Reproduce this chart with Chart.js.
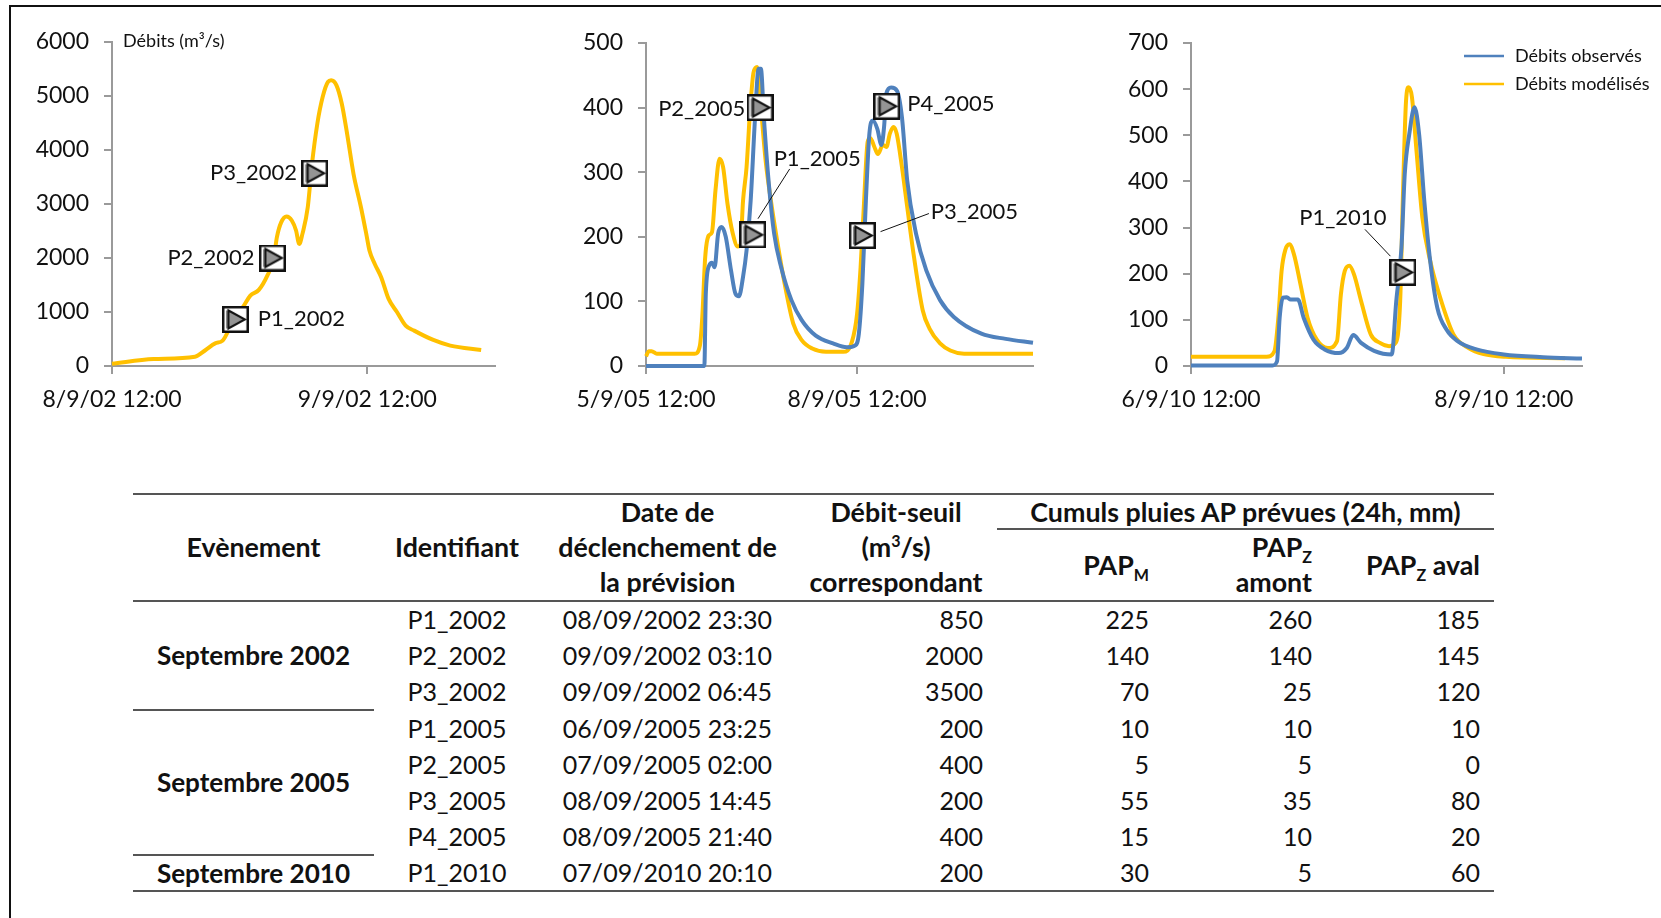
<!DOCTYPE html>
<html lang="fr">
<head>
<meta charset="utf-8">
<title>Débits observés et modélisés</title>
<script src="https://cdn.jsdelivr.net/npm/chart.js@4"></script>
<style>
  html, body { margin: 0; background: #fff; overflow: hidden; }
  body { width: 1661px; height: 918px; position: relative; font-family: Lato, sans-serif; color: #111; }
  #frame { position: absolute; left: 9px; top: 5px; width: 1700px; height: 1000px; border: 2px solid #111; box-sizing: border-box; }
  canvas { position: absolute; }
  table { position: absolute; left: 133px; top: 493px; width: 1361px; border-collapse: collapse; table-layout: fixed; font-size: 25px; line-height: 33px; }
  th, td { padding: 0; overflow: visible; white-space: nowrap; text-align: center; vertical-align: middle; font-weight: 400; }
  th { font-weight: 700; font-size: 26.8px; line-height: 35px; }
  .event { font-weight: 700; font-size: 26.1px; }
  .cumul { line-height: 30px; }
  tbody tr { height: 36.3px; }
  .num { text-align: right; padding-right: 14px; }
  .top { border-top: 2px solid #555; }
  .rule { border-bottom: 2px solid #555; }
  sub, sup { font-size: 60%; line-height: 0; }
</style>
</head>
<body>
<div id="frame"></div>
<canvas id="chart2002" width="503" height="420" style="left:12px;top:21px"></canvas>
<canvas id="chart2005" width="507" height="420" style="left:546px;top:21px"></canvas>
<canvas id="chart2010" width="571" height="420" style="left:1091px;top:21px"></canvas>
<table id="events"></table>

<script>
// 2002
const hours2002 = [0, 3.9, 7.8, 8.8, 9.7, 10.4, 11.4, 12.4, 13, 13.8, 14.6, 15.2, 15.5, 15.9, 16.4, 16.9, 17.3, 17.6, 17.9, 18.4, 18.8, 19.3, 19.8, 20.3, 20.6, 21.1, 21.6, 22.1, 22.7, 23.4, 23.9, 24.2, 24.7, 25.3, 26, 26.8, 27.6, 28.4, 30.2, 31.8, 34.7];
const model2002 = [40, 130, 173, 297, 420, 470, 840, 1118, 1304, 1410, 1675, 1985, 2385, 2660, 2770, 2695, 2510, 2260, 2447, 2940, 3745, 4487, 4980, 5260, 5290, 5197, 4857, 4300, 3560, 2940, 2447, 2138, 1890, 1644, 1242, 995, 748, 655, 482, 377, 297];
const yTicks2002 = [0, 1000, 2000, 3000, 4000, 5000, 6000];
const xTicks2002 = [0, 24];
const xLabels2002 = ["8/9/02 12:00", "9/9/02 12:00"];
const names2002 = ["P1_2002", "P2_2002", "P3_2002"];
const markerX2002 = [11.6, 15.08, 19.05];
const markerY2002 = [863, 2000, 3570];
const labelX2002 = [17.8, 9.3, 13.3];
const labelY2002 = [863, 2000, 3570];

// 2005
const hoursModel2005 = [0, 1, 1.9, 3.7, 16.6, 18.4, 19.2, 20.2, 21.4, 22.5, 23.7, 25.1, 26.3, 27.8, 29.6, 31.3, 32.2, 33.1, 34.3, 35.5, 36.7, 37.9, 39, 40.8, 42.6, 44.9, 47.3, 50.2, 53.1, 56.7, 61.4, 67.3, 70.2, 72, 73.2, 74.4, 75.6, 76.5, 77.9, 79.1, 80.8, 82, 83.2, 84.4, 85.5, 87.3, 89.1, 91.4, 94.4, 96.7, 100.3, 103.8, 108.5, 132];
const model2005 = [15, 23, 23, 19, 19, 32, 76, 169, 202, 207, 272, 321, 308, 251, 205, 185, 187, 256, 308, 396, 455, 463, 411, 318, 256, 189, 127, 66, 40, 27, 22, 22, 37, 81, 153, 256, 347, 353, 339, 328, 342, 339, 360, 370, 360, 308, 246, 169, 86, 58, 35, 24, 19, 19];
const hoursObs2005 = [0, 19.9, 20.4, 21.6, 22.5, 23.4, 24.6, 25.8, 27.2, 29, 30.5, 31.7, 33.1, 34.3, 35.7, 37.2, 38.4, 39.2, 40.2, 41.9, 43.7, 46.1, 49.6, 53.1, 57.9, 63.8, 68.5, 71.4, 72.6, 73.8, 75, 76.2, 77.4, 78.9, 80.3, 81.2, 82, 83.6, 85.6, 87.3, 89.1, 92.1, 95.6, 100.3, 105, 114.4, 122.7, 132];
const obs2005 = [0, 0, 112, 156, 160, 153, 205, 215, 200, 148, 112, 108, 138, 179, 256, 385, 460, 460, 385, 282, 205, 153, 102, 71, 47, 35, 29, 32, 50, 127, 256, 360, 380, 367, 342, 370, 422, 431, 426, 385, 287, 205, 148, 102, 76, 50, 42, 36];
const yTicks2005 = [0, 100, 200, 300, 400, 500];
const xTicks2005 = [0, 72];
const xLabels2005 = ["5/9/05 12:00", "8/9/05 12:00"];
const names2005 = ["P1_2005", "P2_2005", "P3_2005", "P4_2005"];
const markerX2005 = [36.4, 38.9, 73.8, 82.1];
const markerY2005 = [203, 400, 202, 402];
const labelX2005 = [58.4, 19, 112, 104];
const labelY2005 = [321, 398, 239, 405];
const leaderP1X2005 = [38.2, 49];
const leaderP1Y2005 = [228, 305];
const leaderP3X2005 = [80, 96.5];
const leaderP3Y2005 = [208, 236];

// 2010
const hoursModel2010 = [0, 11.6, 12.8, 13.4, 13.9, 14.5, 15.1, 15.8, 16.8, 17.9, 19.3, 21, 22.4, 23, 23.6, 24.3, 25, 26.1, 27.6, 29, 30.4, 31.4, 32.1, 32.5, 33, 33.4, 33.9, 34.6, 35.5, 36.7, 38.4, 40.3, 42.6, 44.9, 48.3, 57.4];
const model2010 = [20, 20, 32, 104, 206, 253, 264, 242, 177, 104, 57, 39, 54, 155, 206, 217, 199, 141, 68, 50, 43, 50, 141, 358, 575, 604, 583, 467, 322, 228, 141, 68, 39, 26, 20, 17];
const hoursObs2010 = [0, 12.5, 13.2, 13.6, 14.1, 14.7, 15.3, 16.4, 17.3, 18.8, 20.5, 22.7, 23.9, 24.9, 26.1, 28.1, 30.8, 31.5, 32.3, 32.8, 33.5, 34.3, 35, 35.8, 36.7, 37.8, 39.2, 40.9, 43.8, 48, 54, 60];
const obs2010 = [1, 1, 10, 104, 148, 149, 144, 144, 104, 57, 36, 28, 39, 67, 50, 33, 25, 141, 257, 416, 503, 561, 503, 358, 228, 126, 79, 54, 36, 25, 19, 16];
const yTicks2010 = [0, 100, 200, 300, 400, 500, 600, 700];
const xTicks2010 = [0, 48];
const xLabels2010 = ["6/9/10 12:00", "8/9/10 12:00"];
const names2010 = ["P1_2010"];
const markerX2010 = [32.5];
const markerY2010 = [203];
const labelX2010 = [23.3];
const labelY2010 = [322];
const leaderP1X2010 = [26.7, 30.6];
const leaderP1Y2010 = [296, 238];

// table
const events = ["Septembre 2002", "Septembre 2005", "Septembre 2010"];
const eventSpans = [3, 4, 1];
const identifiers = ["P1_2002", "P2_2002", "P3_2002", "P1_2005", "P2_2005", "P3_2005", "P4_2005", "P1_2010"];
const triggerDates = ["08/09/2002 23:30", "09/09/2002 03:10", "09/09/2002 06:45", "06/09/2005 23:25", "07/09/2005 02:00", "08/09/2005 14:45", "08/09/2005 21:40", "07/09/2010 20:10"];
const thresholds = [850, 2000, 3500, 200, 400, 200, 400, 200];
const papM = [225, 140, 70, 10, 5, 55, 15, 30];
const papZAmont = [260, 140, 25, 10, 5, 35, 10, 5];
const papZAval = [185, 145, 120, 10, 0, 80, 20, 60];
const columnWidths = [241, 166, 255, 202, 166, 163, 168];

const YELLOW = "#ffc000";
const BLUE = "#4f81bd";
const AXIS = "#9a9a9a";
const TICK_FONT = { family: "Lato", size: 23 };

// white square with the grey "play" triangle
function makeMarker() {
  const c = document.createElement("canvas");
  c.width = c.height = 27;
  const ctx = c.getContext("2d");
  ctx.fillStyle = "#fff";
  ctx.fillRect(0, 0, 27, 27);
  ctx.strokeStyle = "#111";
  ctx.lineWidth = 2.5;
  ctx.strokeRect(1.25, 1.25, 24.5, 24.5);
  ctx.fillStyle = "#8c8c8c";
  ctx.fillRect(4, 4.5, 2.5, 18);
  ctx.beginPath();
  ctx.moveTo(6.5, 4.5);
  ctx.lineTo(23, 13.5);
  ctx.lineTo(6.5, 22.5);
  ctx.closePath();
  ctx.fillStyle = "#949494";
  ctx.fill();
  ctx.lineWidth = 2;
  ctx.stroke();
  return c;
}
const marker = makeMarker();

const zip = (xs, ys) => xs.map((x, i) => ({ x: x, y: ys[i] }));

function curve(label, xs, ys, color, order) {
  return {
    label: label,
    data: zip(xs, ys),
    borderColor: color,
    borderWidth: 4,
    pointRadius: 0,
    cubicInterpolationMode: "monotone",
    clip: false,
    order: order
  };
}

function leader(xs, ys) {
  return { data: zip(xs, ys), borderColor: "#111", borderWidth: 1, pointRadius: 0, clip: false, order: 1 };
}

function markers(xs, ys) {
  return { data: zip(xs, ys), showLine: false, pointStyle: marker, pointRadius: 13, clip: false, order: 0 };
}

// texts anchored on data values, plus the optional legend
const annotations = {
  id: "annotations",
  afterDatasetsDraw(chart, args, opts) {
    const ctx = chart.ctx;
    const x = chart.scales.x;
    const y = chart.scales.y;
    ctx.save();
    ctx.fillStyle = "#111";
    ctx.textBaseline = "middle";
    ctx.textAlign = "center";
    ctx.font = "22px Lato";
    opts.names.forEach((name, i) => {
      ctx.fillText(name, x.getPixelForValue(opts.labelX[i]), y.getPixelForValue(opts.labelY[i]));
    });
    ctx.font = "18px Lato";
    ctx.textAlign = "left";
    if (opts.axisTitle) {
      ctx.fillText(opts.axisTitle, x.left + 11, y.top - 1);
    }
    if (opts.legend) {
      chart.data.datasets.filter(d => d.label).forEach(d => {
        const top = 35 + 28 * opts.legend.indexOf(d.label);
        ctx.strokeStyle = d.borderColor;
        ctx.lineWidth = 2.5;
        ctx.beginPath();
        ctx.moveTo(373, top);
        ctx.lineTo(413, top);
        ctx.stroke();
        ctx.fillText(d.label, 424, top);
      });
    }
    ctx.restore();
  }
};

function buildChart(id, cfg) {
  return new Chart(document.getElementById(id), {
    type: "line",
    data: { datasets: cfg.datasets },
    plugins: [annotations],
    options: {
      responsive: false,
      animation: false,
      events: [],
      layout: { padding: { top: cfg.top, right: cfg.right, bottom: 0, left: 0 } },
      plugins: {
        legend: { display: false },
        tooltip: { enabled: false },
        annotations: cfg.notes
      },
      scales: {
        x: {
          type: "linear",
          min: 0,
          max: cfg.maxHours,
          afterBuildTicks: s => { s.ticks = cfg.xTicks.map(v => ({ value: v })); },
          afterFit: s => { s.height = 420 - cfg.bottom; s.paddingLeft = 0; s.paddingRight = 0; },
          grid: { drawOnChartArea: false, color: AXIS, lineWidth: 2, tickLength: 8 },
          border: { color: AXIS, width: 2 },
          ticks: {
            autoSkip: false,
            maxRotation: 0,
            padding: 12,
            color: "#111",
            font: TICK_FONT,
            callback: (v, i) => cfg.xLabels[i]
          }
        },
        y: {
          min: 0,
          max: cfg.yTicks[cfg.yTicks.length - 1],
          afterBuildTicks: s => { s.ticks = cfg.yTicks.map(v => ({ value: v })); },
          afterFit: s => { s.width = 100; s.paddingTop = 0; s.paddingBottom = 0; },
          grid: { drawOnChartArea: false, color: AXIS, lineWidth: 2, tickLength: 8 },
          border: { color: AXIS, width: 2 },
          ticks: {
            padding: 15,
            color: "#111",
            font: TICK_FONT,
            callback: v => String(v)
          }
        }
      }
    }
  });
}

buildChart("chart2002", {
  top: 21, bottom: 345, right: 20, maxHours: 36,
  xTicks: xTicks2002, xLabels: xLabels2002, yTicks: yTicks2002,
  datasets: [
    curve("Débits modélisés", hours2002, model2002, YELLOW, 3),
    markers(markerX2002, markerY2002)
  ],
  notes: { names: names2002, labelX: labelX2002, labelY: labelY2002, axisTitle: "Débits (m³/s)" }
});

buildChart("chart2005", {
  top: 22, bottom: 345, right: 20, maxHours: 132,
  xTicks: xTicks2005, xLabels: xLabels2005, yTicks: yTicks2005,
  datasets: [
    curve("Débits modélisés", hoursModel2005, model2005, YELLOW, 3),
    curve("Débits observés", hoursObs2005, obs2005, BLUE, 2),
    leader(leaderP1X2005, leaderP1Y2005),
    leader(leaderP3X2005, leaderP3Y2005),
    markers(markerX2005, markerY2005)
  ],
  notes: { names: names2005, labelX: labelX2005, labelY: labelY2005 }
});

buildChart("chart2010", {
  top: 22, bottom: 345, right: 80, maxHours: 60,
  xTicks: xTicks2010, xLabels: xLabels2010, yTicks: yTicks2010,
  datasets: [
    curve("Débits modélisés", hoursModel2010, model2010, YELLOW, 3),
    curve("Débits observés", hoursObs2010, obs2010, BLUE, 2),
    leader(leaderP1X2010, leaderP1Y2010),
    markers(markerX2010, markerY2010)
  ],
  notes: { names: names2010, labelX: labelX2010, labelY: labelY2010, legend: ["Débits observés", "Débits modélisés"] }
});

// summary table
function buildTable() {
  let html = "<colgroup>" + columnWidths.map(w => `<col style="width:${w}px">`).join("") + "</colgroup>";
  html += `<thead>
    <tr style="height:35px" class="top">
      <th rowspan="2" class="rule">Evènement</th>
      <th rowspan="2" class="rule">Identifiant</th>
      <th rowspan="2" class="rule">Date de<br>déclenchement de<br>la prévision</th>
      <th rowspan="2" class="rule">Débit-seuil<br>(m<sup>3</sup>/s)<br>correspondant</th>
      <th colspan="3" class="rule cumul">Cumuls pluies AP prévues (24h, mm)</th>
    </tr>
    <tr style="height:70px">
      <th class="rule num">PAP<sub>M</sub></th>
      <th class="rule num">PAP<sub>Z</sub><br>amont</th>
      <th class="rule num">PAP<sub>Z</sub> aval</th>
    </tr>
  </thead><tbody>`;
  let row = 0;
  events.forEach((name, e) => {
    for (let i = 0; i < eventSpans[e]; i++, row++) {
      const last = e === events.length - 1;
      const cls = last ? ' class="rule"' : "";
      html += "<tr>";
      if (i === 0) html += `<td rowspan="${eventSpans[e]}" class="event rule">${name}</td>`;
      html += `<td${cls}>${identifiers[row]}</td><td${cls}>${triggerDates[row]}</td>`;
      [thresholds, papM, papZAmont, papZAval].forEach(col => {
        html += `<td class="num${last ? " rule" : ""}">${col[row]}</td>`;
      });
      html += "</tr>";
    }
  });
  document.getElementById("events").innerHTML = html + "</tbody>";
}
buildTable();
</script>
</body>
</html>
